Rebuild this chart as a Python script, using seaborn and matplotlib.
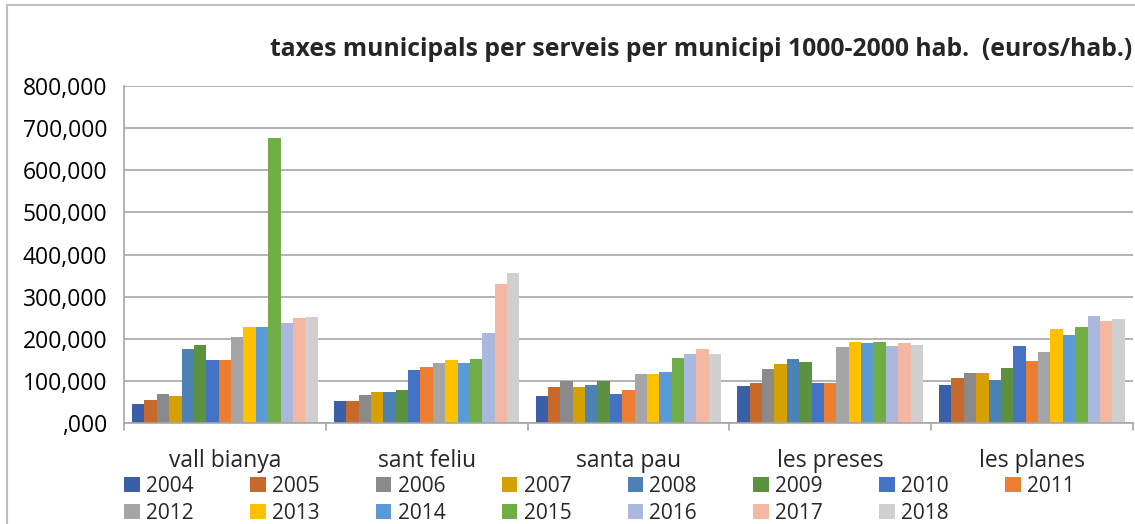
import numpy as np
import pandas as pd
import matplotlib
matplotlib.use("Agg")
import matplotlib.pyplot as plt
from matplotlib.ticker import FuncFormatter
import seaborn as sns

municipis = ["vall bianya", "sant feliu", "santa pau", "les preses", "les planes"]
anys = [str(a) for a in range(2004, 2019)]

# euros/hab. per year, one list per municipi (2004..2018)
vall_bianya = [46000, 55000, 70000, 64000, 176000, 186000, 149000, 149000, 204000, 227000, 227000, 677000, 237000, 250000, 252000]
sant_feliu = [52000, 52000, 67000, 73000, 73000, 79000, 125000, 134000, 143000, 149000, 143000, 153000, 213000, 329000, 356000]
santa_pau = [65000, 85000, 100000, 85000, 91000, 99000, 70000, 79000, 116000, 116000, 122000, 155000, 164000, 176000, 164000]
les_preses = [89000, 95000, 128000, 141000, 153000, 146000, 95000, 95000, 180000, 192000, 189000, 192000, 184000, 189000, 186000]
les_planes = [91000, 107000, 119000, 119000, 101000, 131000, 183000, 147000, 168000, 222000, 208000, 229000, 254000, 241000, 247000]

colors = ["#3B5FA6", "#C8692C", "#8A8A8A", "#D6A100", "#4C82B4", "#5C9140", "#4472C4",
          "#ED7D31", "#A5A5A5", "#FFC000", "#5B9BD5", "#70AD47", "#ABB8DD", "#F4B8A2", "#CFCFCF"]

rows = []
for m, vals in zip(municipis, [vall_bianya, sant_feliu, santa_pau, les_preses, les_planes]):
    for a, v in zip(anys, vals):
        rows.append({"municipi": m, "any": a, "valor": v})
df = pd.DataFrame(rows)

sns.set_style("white")
plt.rcParams["font.family"] = ["Open Sans", "DejaVu Sans"]
fig = plt.figure(figsize=(11.35, 5.24), dpi=100)
ax = fig.add_axes([0.1093, 0.1927, 0.8887, 0.6432])

sns.barplot(data=df, x="municipi", y="valor", hue="any", palette=colors,
            order=municipis, hue_order=anys, width=0.92, gap=0, ax=ax,
            errorbar=None, saturation=1, linewidth=0, legend=True)

ax.set_ylim(0, 800000)
ax.set_yticks(np.arange(0, 800001, 100000))
ax.yaxis.set_major_formatter(FuncFormatter(lambda v, p: ",000" if v == 0 else f"{int(v/1000)},000"))
ax.yaxis.grid(True, color="#A6A6A6", linewidth=1.2)
ax.set_axisbelow(True)
ax.set_xlim(-0.5, 4.5)
ax.set_xlabel("")
ax.set_ylabel("")

for s in ["top", "right"]:
    ax.spines[s].set_visible(False)
ax.spines["left"].set_color("#A6A6A6")
ax.spines["bottom"].set_color("#A6A6A6")
ax.spines["left"].set_linewidth(1.2)
ax.spines["bottom"].set_linewidth(1.2)

ax.tick_params(axis="y", labelsize=16.5, length=7, width=1.2, color="#A6A6A6", pad=5, labelcolor="black")
ax.tick_params(axis="x", labelsize=16.5, length=0, pad=19)
# tick marks between categories
for xb in np.arange(-0.5, 5.0, 1.0):
    ax.plot([xb, xb], [0, -0.02], transform=ax.get_xaxis_transform(),
            color="#A6A6A6", lw=1.2, clip_on=False)

fig.text(0.998, 0.905, "taxes municipals per serveis per municipi 1000-2000 hab.  (euros/hab.)",
         ha="right", va="center", fontsize=17.85, fontweight="bold")

handles, labels = ax.get_legend_handles_labels()
ax.get_legend().remove()
order = []
for i in range(8):
    order.append(i)
    if i + 8 < 15:
        order.append(i + 8)
leg = fig.legend([handles[i] for i in order], [labels[i] for i in order],
                 ncol=8, loc="lower left", bbox_to_anchor=(0.093, -0.036),
                 frameon=False, fontsize=15, handlelength=0.75, handleheight=0.75,
                 handletextpad=0.3, columnspacing=2.7, labelspacing=0.3)

# chart border
fig.patches.append(plt.Rectangle((0.006, -0.01), 1.2, 1.0, transform=fig.transFigure,
                                 fill=False, edgecolor="#BFBFBF", lw=1.5))

fig.savefig("out.png", dpi=100)
